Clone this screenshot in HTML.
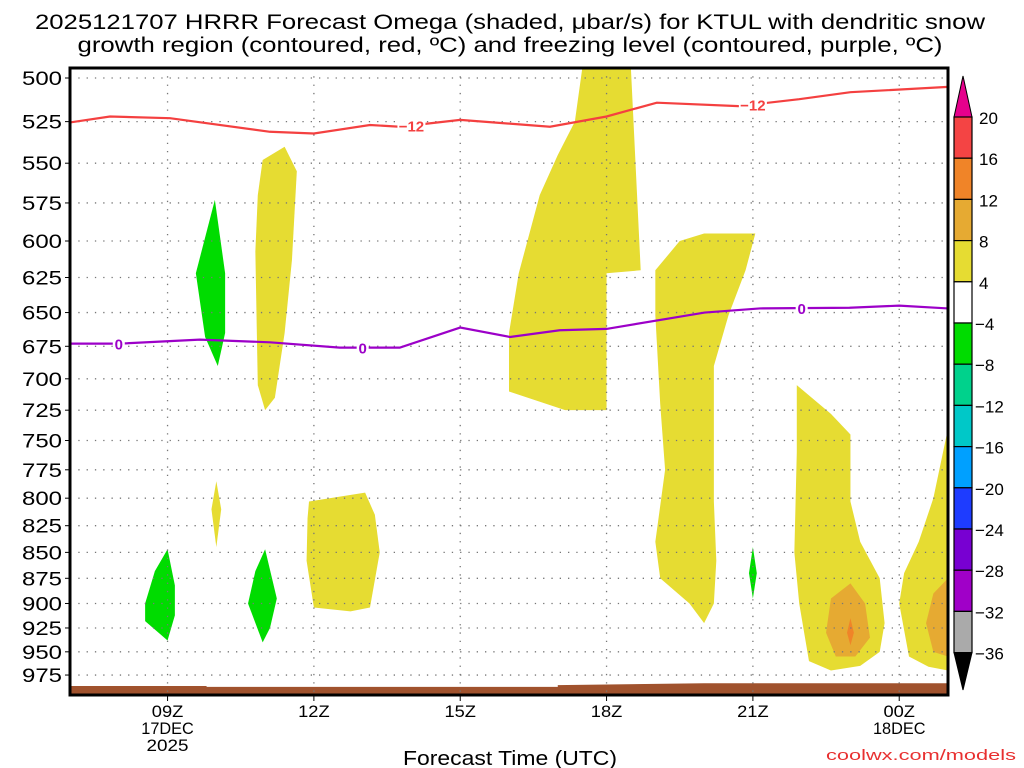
<!DOCTYPE html>
<html><head><meta charset="utf-8"><style>
body{margin:0;background:#fff;}
svg{display:block;font-family:"Liberation Sans","DejaVu Sans",sans-serif;}
</style></head><body>
<svg id="chart" width="1024" height="768" viewBox="0 0 1024 768">
<text x="510" y="29" font-size="21" text-anchor="middle" textLength="950" lengthAdjust="spacingAndGlyphs">2025121707 HRRR Forecast Omega (shaded, μbar/s) for KTUL with dendritic snow</text>
<text x="510" y="52" font-size="21" text-anchor="middle" textLength="865" lengthAdjust="spacingAndGlyphs">growth region (contoured, red, ºC) and freezing level (contoured, purple, ºC)</text>
<text x="510" y="765" font-size="20" text-anchor="middle" textLength="214" lengthAdjust="spacingAndGlyphs">Forecast Time (UTC)</text>
<text x="1016" y="760" font-size="15" fill="#e83030" text-anchor="end" textLength="190" lengthAdjust="spacingAndGlyphs">coolwx.com/models</text>
<g id="plot"></g>
<g id="cbar"></g>
</svg>
<script>
const NS="http://www.w3.org/2000/svg";
const pLevels=[500,525,550,575,600,625,650,675,700,725,750,775,800,825,850,875,900,925,950,975];
const xTickHours=[2,5,8,11,14,17];
const xTickLabels=[["09Z","17DEC","2025"],["12Z"],["15Z"],["18Z"],["21Z"],["00Z","18DEC"]];
// shaded omega regions: [hour since 07Z, pressure mb]
const yellowRegions=[
 [[10.5,495],[11.5,495],[11.7,620],[11.0,622],[11.0,725],[10.15,725],[9.0,710],[9.0,665],[9.2,622],[9.63,570],[10.0,545],[10.35,525]],
 [[3.95,548],[4.4,540],[4.65,555],[4.55,613],[4.4,665],[4.2,715],[4.0,725],[3.85,705],[3.8,607],[3.85,570]],
 [[4.9,803],[6.05,795],[6.25,815],[6.35,850],[6.15,904],[5.75,908],[5.0,904],[4.85,858],[4.87,818]],
 [[3.0,785],[3.1,810],[3.0,845],[2.9,810]],
 [[12.0,620],[12.5,600],[13.0,595],[14.05,595],[13.85,620],[13.5,652],[13.2,690],[13.2,730],[13.2,803],[13.25,858],[13.2,900],[13.0,920],[12.7,900],[12.1,875],[12.0,840],[12.2,775],[12.1,720],[12.0,652]],
 [[14.9,705],[15.6,728],[16.0,745],[16.0,803],[16.2,840],[16.6,875],[16.7,920],[16.6,950],[16.2,965],[15.6,970],[15.15,960],[14.95,900],[14.85,850],[14.9,760]],
 [[18.0,740],[18.0,970],[17.6,966],[17.2,955],[17.0,900],[17.1,870],[17.4,840],[17.7,800]]
];
const orangeRegions=[
 [[15.6,895],[16.0,880],[16.3,900],[16.4,935],[16.1,955],[15.7,955],[15.5,930]],
 [[18.0,875],[17.7,890],[17.55,920],[17.7,950],[18.0,955]]
];
const darkOrangeRegions=[[[16.0,915],[16.07,930],[16.0,943],[15.93,930]]];
const greenRegions=[
 [[2.97,573],[3.18,622],[3.18,665],[3.03,690],[2.77,668],[2.58,622]],
 [[2.0,847],[2.15,882],[2.15,912],[2.0,938],[1.54,918],[1.54,900],[1.74,868]],
 [[4.0,847],[4.24,895],[4.1,925],[3.95,940],[3.65,900],[3.8,868]],
 [[14.0,845],[14.08,870],[14.0,895],[13.92,870]]
];
const dgzHours=[0,0.82,2.05,4.1,5,6.15,6.76,8,9.84,11,12.03,13.7,14.95,16,18];
const dgzP=[525.5,522,523,531,532,527,528,524,528,522,514,516,512,508,505];
const frzHours=[0,1.02,2.66,4.1,5.53,6.76,8,9.02,10.04,11,13.01,14.14,15.98,17,18];
const frzP=[673,673,670,672,676,676,661,668,663,662,650,647,646.5,645,647];
const groundHours=[0,2.8,2.8,10,10,13,18];
const groundP=[987,987,988,988,986,984,984];
const cbarValues=["20","16","12","8","4","−4","−8","−12","−16","−20","−24","−28","−32","−36"];
const cbarColors=["#f44444","#f08428","#e6aa32","#e6dc32","#ffffff","#00dc00","#00d28c","#00c8c8","#00a0ff","#1e3cff","#7800d2","#a000c8","#aaaaaa"];

const X0=70,X1=948,Y0=68,Y1=695;
const xs=h=>X0+(h)*(X1-X0)/18;
const ys=p=>78+Math.log(p/500)*894;
function el(tag,attrs,parent){const e=document.createElementNS(NS,tag);for(const k in attrs)e.setAttribute(k,attrs[k]);parent.appendChild(e);return e;}
const plot=document.getElementById('plot');
const clip=el('clipPath',{id:'pc'},plot);el('rect',{x:X0,y:Y0,width:X1-X0,height:Y1-Y0},clip);
const g=el('g',{'clip-path':'url(#pc)'},plot);
function poly(pts,fill,name){const p=el('polygon',{points:pts.map(q=>xs(q[0])+','+ys(q[1])).join(' '),fill:fill},g);

}
yellowRegions.forEach((r,i)=>poly(r,'#e6dc32','omega-4to8-region'));
orangeRegions.forEach(r=>poly(r,'#e6aa32','omega-8to12-region'));
darkOrangeRegions.forEach(r=>poly(r,'#f08428','omega-12to16-region'));
greenRegions.forEach(r=>poly(r,'#00dc00','omega-neg4to8-region'));
// ground
const gp=groundHours.map((h,i)=>[h,groundP[i]]).concat([[18,1100],[0,1100]]);
poly(gp,'#a0522d','ground');
// grid
pLevels.forEach(p=>{const y=ys(p);
 const l=el('line',{x1:X0,x2:X1,y1:y,y2:y,stroke:'#777','stroke-width':1.3,'stroke-dasharray':'1.3 7'},g);
 
 
 const t=el('text',{x:62,y:y+7,'font-size':19,'text-anchor':'end',textLength:40,lengthAdjust:'spacingAndGlyphs'},plot);t.textContent=p;
 
 
 el('line',{x1:X0-5,x2:X0,y1:y,y2:y,stroke:'#000'},plot);
});
xTickHours.forEach((h,i)=>{const x=xs(h);
 const l=el('line',{x1:x,x2:x,y1:Y0,y2:Y1,stroke:'#777','stroke-width':1.3,'stroke-dasharray':'1.3 7'},g);
 
 
 el('line',{x1:x,x2:x,y1:Y1,y2:Y1+6,stroke:'#000'},plot);
 xTickLabels[i].forEach((s,j)=>{const t=el('text',{x:x,y:Y1+22+j*17,'font-size':17,'text-anchor':'middle',textLength:s.length*10.5,lengthAdjust:'spacingAndGlyphs'},plot);t.textContent=s;
 
 });
});
function line(hs,ps,color,name,labels){
 const d=hs.map((h,i)=>(i?'L':'M')+xs(h)+','+ys(ps[i])).join(' ');
 const p=el('path',{d:d,fill:'none',stroke:color,'stroke-width':2.2},g);
 
 
 labels.forEach(L=>{let k=0;while(k<hs.length-2&&hs[k+1]<L[0])k++;
  const f=(L[0]-hs[k])/(hs[k+1]-hs[k]);const y=ys(ps[k]+f*(ps[k+1]-ps[k]));const x=xs(L[0]);
  el('rect',{x:x-L[2],y:y-8,width:2*L[2],height:16,fill:'#fff'},g);
  const t=el('text',{x:x,y:y+6,'font-size':15,'font-weight':'bold',fill:color,'text-anchor':'middle'},g);t.textContent=L[1];
  
  });
}
line(dgzHours,dgzP,'#f44040','dgz-minus12-contour',[[7.0,'−12',14],[14.0,'−12',14]]);
line(frzHours,frzP,'#9c00c8','freezing-level-contour',[[1.0,'0',6],[6.0,'0',6],[15.0,'0',6]]);
el('rect',{x:X0,y:Y0,width:X1-X0,height:Y1-Y0,fill:'none',stroke:'#000','stroke-width':3},plot);
// colorbar
const cb=document.getElementById('cbar');
const CX=954,CW=18,CT=117,CS=41.2;
el('polygon',{points:`${CX},${CT} ${CX+CW},${CT} ${CX+CW/2},76`,fill:'#e6008c',stroke:'#000'},cb);
cbarColors.forEach((c,i)=>{const r=el('rect',{x:CX,y:CT+i*CS,width:CW,height:CS,fill:c,stroke:'#000','stroke-width':1.2},cb);
 
 });
const yb=CT+cbarColors.length*CS;
el('polygon',{points:`${CX},${yb} ${CX+CW},${yb} ${CX+CW/2},690`,fill:'#000',stroke:'#000'},cb);
cbarValues.forEach((v,i)=>{const t=el('text',{x:v.startsWith('−')?975:979,y:CT+i*CS+7,'font-size':17},cb);t.textContent=v;
 
 });
</script>
</body></html>
